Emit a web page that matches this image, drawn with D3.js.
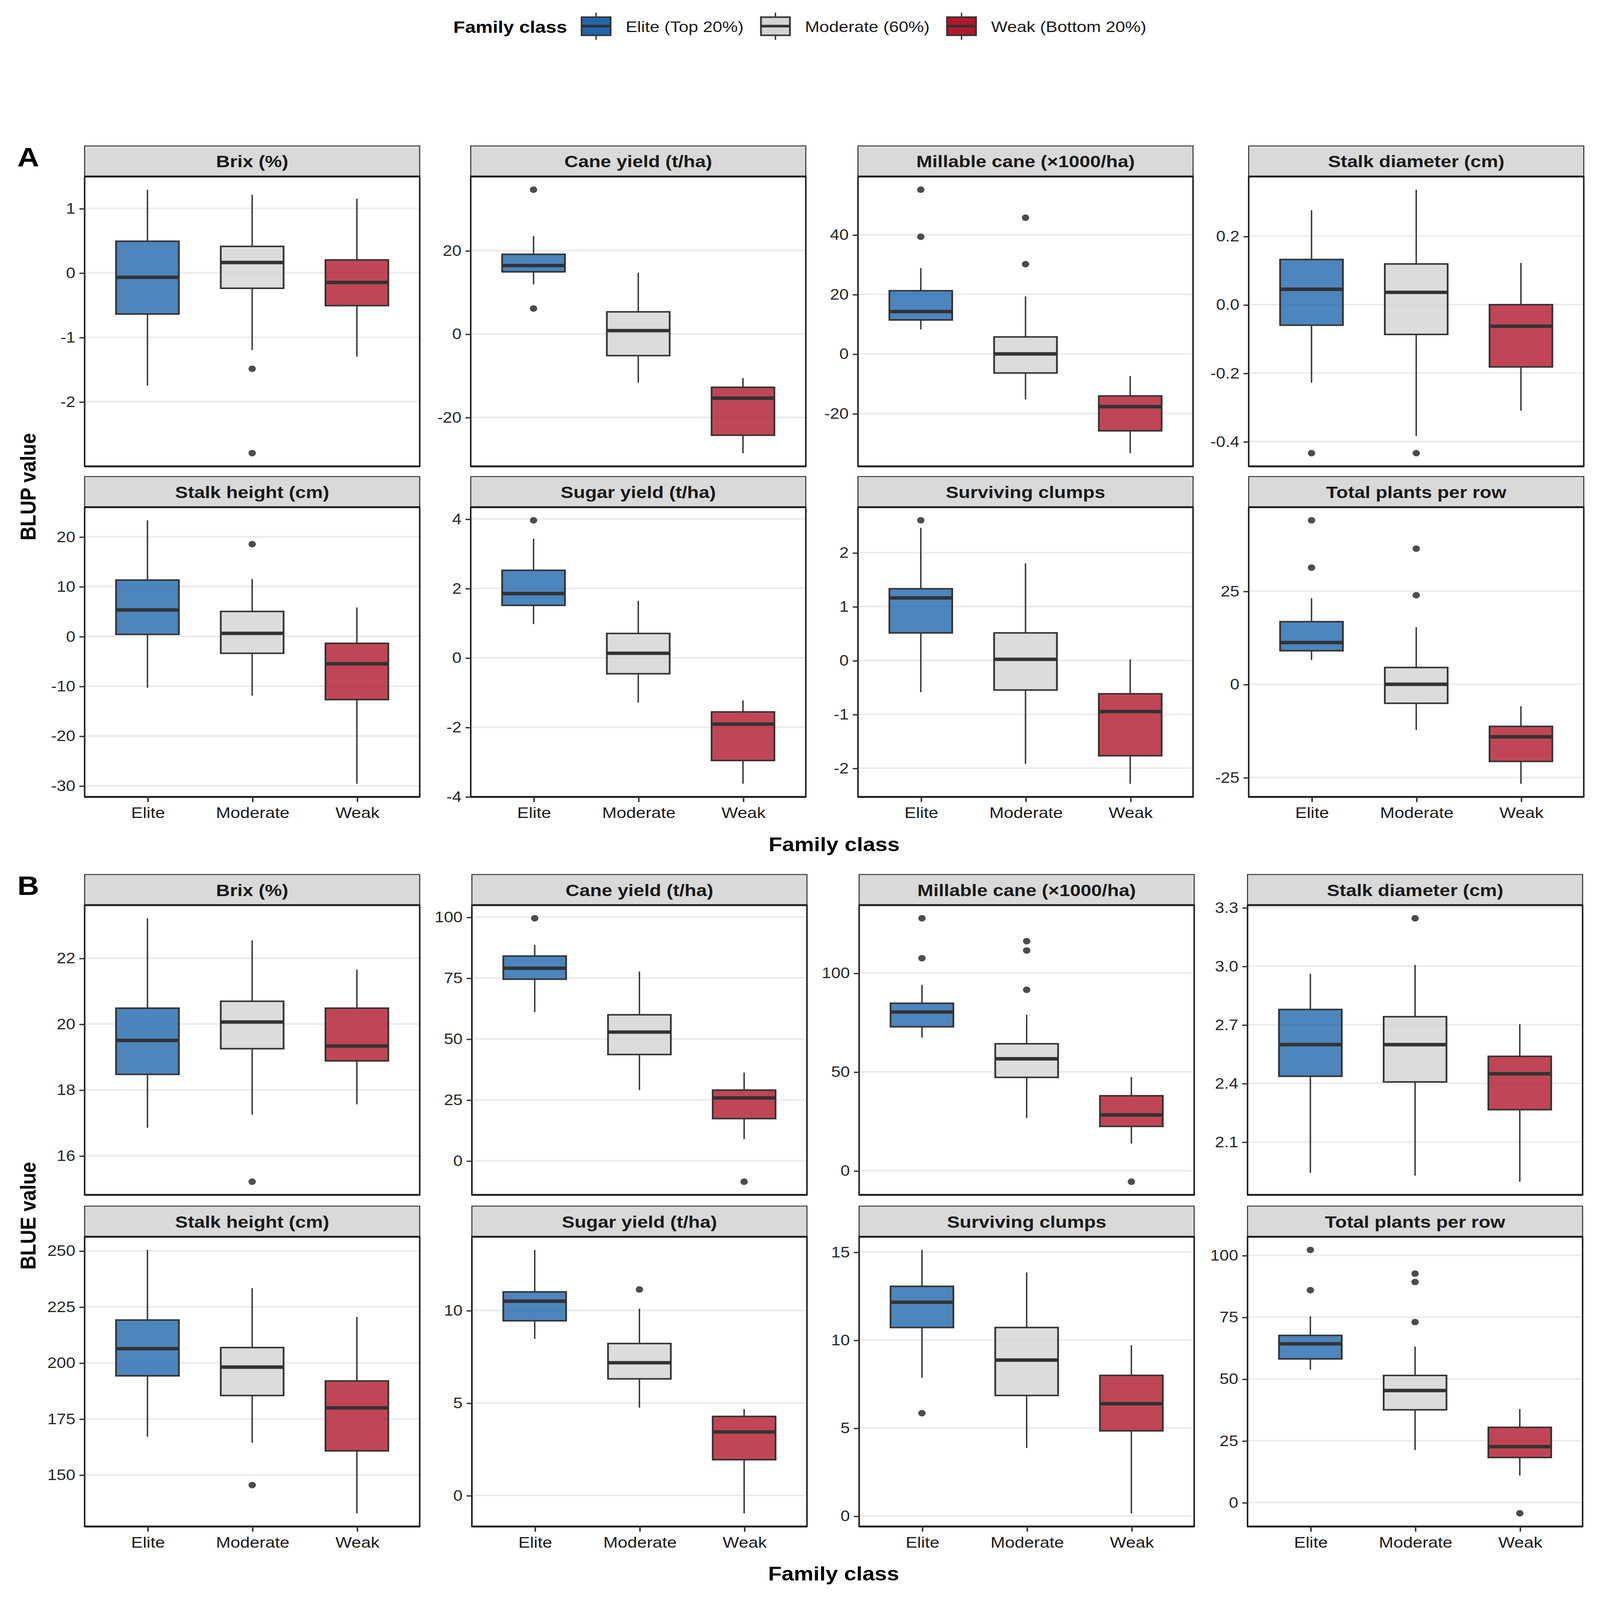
<!DOCTYPE html>
<html>
<head>
<meta charset="utf-8">
<script src="https://cdn.jsdelivr.net/npm/d3@7"></script>
<style>
  html, body { margin: 0; padding: 0; background: #fff; overflow: hidden; }
  svg { display: block; position: absolute; left: 0; top: 0; width: 100vw; height: 100vh; }
  text { font-family: "Liberation Sans", Arial, sans-serif; }
</style>
</head>
<body>
<div id="chart"></div>
<script>
const traits = ['Brix (%)', 'Cane yield (t/ha)', 'Millable cane (×1000/ha)', 'Stalk diameter (cm)',
  'Stalk height (cm)', 'Sugar yield (t/ha)', 'Surviving clumps', 'Total plants per row'];
const classes = ['Elite', 'Moderate', 'Weak'];
const legendLabels = ['Elite (Top 20%)', 'Moderate (60%)', 'Weak (Bottom 20%)'];
const classColors = ['#2166AC', '#D3D3D3', '#B2182B'];

// per trait, per class: [lower whisker, q1, median, q3, upper whisker]
const blupStats = [
  [[-1.75, -0.64, -0.07, 0.49, 1.29], [-1.20, -0.24, 0.16, 0.41, 1.21], [-1.30, -0.51, -0.15, 0.20, 1.15]],
  [[11.9, 14.9, 16.4, 19.1, 23.5], [-11.7, -5.2, 0.8, 5.3, 14.7], [-28.6, -24.3, -15.4, -12.8, -10.6]],
  [[8.2, 11.4, 14.2, 21.2, 28.8], [-15.3, -6.4, 0.0, 5.7, 19.3], [-33.3, -25.8, -17.7, -14.1, -7.4]],
  [[-0.228, -0.060, 0.045, 0.132, 0.276], [-0.384, -0.087, 0.036, 0.119, 0.336], [-0.310, -0.182, -0.063, 0.0, 0.122]],
  [[-10.3, 0.4, 5.3, 11.3, 23.3], [-11.9, -3.4, 0.6, 5.0, 11.5], [-29.6, -12.7, -5.5, -1.4, 5.8]],
  [[0.97, 1.51, 1.85, 2.52, 3.43], [-1.29, -0.46, 0.13, 0.70, 1.64], [-3.63, -2.96, -1.91, -1.56, -1.23]],
  [[-0.59, 0.51, 1.16, 1.33, 2.46], [-1.92, -0.55, 0.02, 0.51, 1.80], [-2.29, -1.77, -0.95, -0.62, 0.02]],
  [[6.5, 9.0, 11.2, 16.8, 23.1], [-12.3, -5.1, 0.0, 4.5, 15.3], [-26.7, -20.7, -14.1, -11.3, -5.9]]
];
const blupOutliers = [
  [[], [-1.49, -2.80], []],
  [[34.6, 6.1], [], []],
  [[55.1, 39.3], [45.7, 30.1], []],
  [[-0.434], [-0.434], []],
  [[], [18.5], []],
  [[3.96], [], []],
  [[2.60], [], []],
  [[44.0, 31.3], [36.4, 23.9], []]
];
const blupTicks = [[-2, -1, 0, 1], [-20, 0, 20], [-20, 0, 20, 40], [-0.4, -0.2, 0.0, 0.2],
  [-30, -20, -10, 0, 10, 20], [-4, -2, 0, 2, 4], [-2, -1, 0, 1, 2], [-25, 0, 25]];

const blueStats = [
  [[16.85, 18.47, 19.50, 20.48, 23.21], [17.25, 19.25, 20.06, 20.69, 22.54], [17.56, 18.88, 19.33, 20.48, 21.65]],
  [[61.0, 74.5, 79.0, 84.0, 88.6], [29.0, 43.6, 52.8, 59.9, 77.6], [8.9, 17.3, 25.8, 29.0, 36.2]],
  [[67.3, 72.8, 80.3, 84.7, 94.0], [26.6, 47.2, 56.6, 64.2, 78.9], [13.7, 22.4, 28.2, 37.9, 47.4]],
  [[1.942, 2.436, 2.598, 2.778, 2.961], [1.927, 2.407, 2.598, 2.741, 3.006], [1.896, 2.265, 2.449, 2.538, 2.703]],
  [[167.0, 194.2, 206.3, 219.1, 250.4], [164.3, 185.4, 198.1, 206.8, 233.3], [132.8, 160.7, 179.9, 191.9, 220.5]],
  [[8.46, 9.44, 10.5, 11.0, 13.27], [4.74, 6.30, 7.17, 8.21, 10.09], [-0.97, 1.93, 3.43, 4.27, 4.67]],
  [[7.85, 10.71, 12.15, 13.05, 15.12], [3.86, 6.85, 8.86, 10.71, 13.84], [0.15, 4.84, 6.38, 7.99, 9.70]],
  [[53.7, 58.1, 64.2, 67.6, 75.3], [21.2, 37.5, 45.3, 51.4, 63.1], [10.9, 18.2, 22.6, 30.4, 37.8]]
];
const blueOutliers = [
  [[], [15.21], []],
  [[99.5], [], [-8.6]],
  [[127.7, 107.5], [116.1, 111.4, 91.5], [-5.6]],
  [[], [3.245], []],
  [[], [145.4], []],
  [[], [11.13], []],
  [[5.84], [], []],
  [[102.2, 85.9], [92.6, 89.2, 73.0], [-4.4]]
];
const blueTicks = [[16, 18, 20, 22], [0, 25, 50, 75, 100], [0, 50, 100], [2.1, 2.4, 2.7, 3.0, 3.3],
  [150, 175, 200, 225, 250], [0, 5, 10], [0, 5, 10, 15], [0, 25, 50, 75, 100]];

let W = 1380, H = 1568;
let stripH = 30, panelH = 284, panelW = 289;

let sections = [
  {letter: 'A', yTitle: 'BLUP value', stats: blupStats, outliers: blupOutliers, ticks: blupTicks,
    rowTops: [143, 467], cols: [73, 406, 740, 1077]},
  {letter: 'B', yTitle: 'BLUE value', stats: blueStats, outliers: blueOutliers, ticks: blueTicks,
    rowTops: [857, 1182], cols: [73, 407, 741, 1076]}
];

// fill the whole window; the viewBox keeps the layout
let svg = d3.select('#chart')
  .append('svg')
    .attr('viewBox', `0 0 ${W} ${H}`)
    .attr('preserveAspectRatio', 'none');

svg.append('rect').attr('width', W).attr('height', H).attr('fill', '#fff');

// legend
let legend = svg.append('g');
let lt = legend.append('text')
  .attr('x', 391).attr('y', 32)
  .style('font-size', '16.5px').style('font-weight', 'bold').attr('fill', '#000')
  .text('Family class');
let lx = 391 + lt.node().getComputedTextLength() + 12;
legendLabels.forEach((lab, i) => {
  let k = legend.append('g').attr('transform', `translate(${lx}, 0)`);
  k.append('line').attr('x1', 13).attr('x2', 13).attr('y1', 12.4).attr('y2', 39)
    .attr('stroke', '#333').attr('stroke-width', 1.2);
  k.append('rect').attr('x', 0.5).attr('y', 16.8).attr('width', 25).attr('height', 17.8)
    .attr('fill', classColors[i]).attr('stroke', '#333').attr('stroke-width', 1.5);
  k.append('line').attr('x1', 0.5).attr('x2', 25.5).attr('y1', 25.6).attr('y2', 25.6)
    .attr('stroke', '#333').attr('stroke-width', 2.6);
  let t = k.append('text').attr('x', 38.5).attr('y', 31.5)
    .style('font-size', '15px').attr('fill', '#1a1a1a').text(lab);
  lx += 38.5 + t.node().getComputedTextLength() + 14.5;
});

sections.forEach(sec => {
  traits.forEach((trait, i) => {
    let col = i % 4, row = Math.floor(i / 4);
    let x0 = sec.cols[col];
    let top = sec.rowTops[row];
    let py0 = top + stripH, py1 = py0 + panelH;

    let x = d3.scalePoint().domain(classes).range([x0, x0 + panelW]).padding(0.6);
    let bw = x.step() * 0.6;

    let vals = sec.stats[i].flat().concat(sec.outliers[i].flat());
    let lo = d3.min(vals), hi = d3.max(vals);
    let pad = (hi - lo) * 0.05;
    let y = d3.scaleLinear().domain([lo - pad, hi + pad]).range([py1, py0]);

    let g = svg.append('g');

    // grid
    g.selectAll('.grid').data(sec.ticks[i]).enter().append('line')
      .attr('x1', x0).attr('x2', x0 + panelW)
      .attr('y1', d => y(d)).attr('y2', d => y(d))
      .attr('stroke', '#EBEBEB').attr('stroke-width', 1.6);

    // boxes
    classes.forEach((c, j) => {
      let s = sec.stats[i][j];
      let cx = x(c);
      g.append('line').attr('x1', cx).attr('x2', cx).attr('y1', y(s[3])).attr('y2', y(s[4]))
        .attr('stroke', '#333').attr('stroke-width', 1.2);
      g.append('line').attr('x1', cx).attr('x2', cx).attr('y1', y(s[0])).attr('y2', y(s[1]))
        .attr('stroke', '#333').attr('stroke-width', 1.2);
      g.append('rect')
        .attr('x', cx - bw / 2).attr('width', bw)
        .attr('y', y(s[3])).attr('height', y(s[1]) - y(s[3]))
        .attr('fill', classColors[j]).attr('fill-opacity', 0.8)
        .attr('stroke', '#333').attr('stroke-width', 1.5);
      g.append('line').attr('x1', cx - bw / 2).attr('x2', cx + bw / 2)
        .attr('y1', y(s[2])).attr('y2', y(s[2]))
        .attr('stroke', '#333').attr('stroke-width', 3.4);
      g.selectAll(null).data(sec.outliers[i][j]).enter().append('circle')
        .attr('cx', cx).attr('cy', d => y(d)).attr('r', 3.2)
        .attr('fill', '#4d4d4d');
    });

    // panel border
    g.append('rect').attr('x', x0).attr('y', py0).attr('width', panelW).attr('height', panelH)
      .attr('fill', 'none').attr('stroke', '#1a1a1a').attr('stroke-width', 1.3);
    g.append('line').attr('x1', x0).attr('x2', x0 + panelW).attr('y1', py1).attr('y2', py1)
      .attr('stroke', '#1a1a1a').attr('stroke-width', 1.8);

    // strip
    g.append('rect').attr('x', x0).attr('y', top).attr('width', panelW).attr('height', stripH)
      .attr('fill', '#D9D9D9').attr('stroke', '#333').attr('stroke-width', 0.9);
    g.append('line').attr('x1', x0).attr('x2', x0 + panelW).attr('y1', py0).attr('y2', py0)
      .attr('stroke', '#1a1a1a').attr('stroke-width', 1.8);
    g.append('text').attr('x', x0 + panelW / 2).attr('y', top + stripH / 2 + 6)
      .attr('text-anchor', 'middle')
      .style('font-size', '16.5px').style('font-weight', 'bold').attr('fill', '#1a1a1a')
      .text(trait);

    // y axis
    let dec = sec.ticks[i].some(t => !Number.isInteger(t));
    let yAxis = d3.axisLeft(y)
      .tickValues(sec.ticks[i])
      .tickSize(4.5)
      .tickPadding(3.5)
      .tickFormat(d => dec ? d.toFixed(1) : String(d));
    let ya = g.append('g').attr('transform', `translate(${x0}, 0)`).call(yAxis);
    ya.select('.domain').remove();
    ya.selectAll('line').attr('stroke', '#333').attr('stroke-width', 1.3);
    ya.selectAll('text').style('font-size', '14.5px').attr('fill', '#262626')
      .style('font-family', '"Liberation Sans", Arial, sans-serif');

    // x axis on bottom row only
    if (row === 1) {
      let xAxis = d3.axisBottom(x).tickSize(5).tickPadding(5);
      let xa = g.append('g').attr('transform', `translate(0, ${py1})`).call(xAxis);
      xa.select('.domain').remove();
      xa.selectAll('line').attr('stroke', '#333').attr('stroke-width', 1.3);
      xa.selectAll('text').style('font-size', '15px').attr('fill', '#1a1a1a')
        .style('font-family', '"Liberation Sans", Arial, sans-serif');
    }
  });

  let rTop = sec.rowTops[0] + stripH;
  let rBot = sec.rowTops[1] + stripH + panelH;

  svg.append('text')
    .attr('x', 15).attr('y', sec.rowTops[0] + 20)
    .style('font-size', '26px').style('font-weight', 'bold').attr('fill', '#000')
    .text(sec.letter);

  svg.append('text')
    .attr('transform', `translate(30.5, ${(rTop + rBot) / 2}) rotate(-90)`)
    .attr('text-anchor', 'middle')
    .style('font-size', '19px').style('font-weight', 'bold').attr('fill', '#000')
    .text(sec.yTitle);

  svg.append('text')
    .attr('x', (sec.cols[0] + sec.cols[3] + panelW) / 2).attr('y', rBot + 53)
    .attr('text-anchor', 'middle')
    .style('font-size', '19px').style('font-weight', 'bold').attr('fill', '#000')
    .text('Family class');
});
</script>
</body>
</html>
